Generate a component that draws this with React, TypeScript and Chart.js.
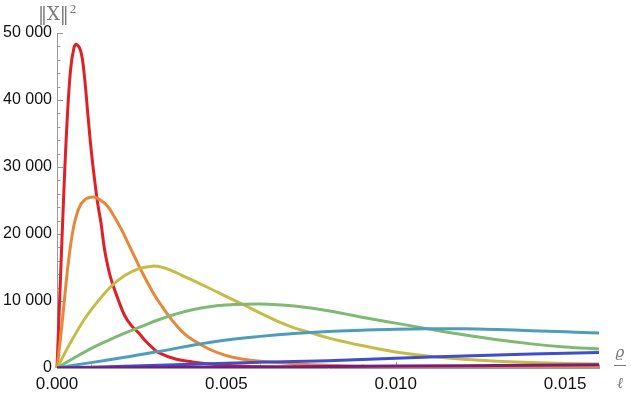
import React, { useEffect, useRef } from "react";
import { Chart, registerables } from "chart.js";

Chart.register(...registerables);

// ---- data ----
const redX = [0, 0.0001, 0.0002, 0.0003, 0.0004, 0.0005, 0.00057, 0.0007, 0.0008, 0.0009, 0.001, 0.0011, 0.0012, 0.0013, 0.0014, 0.0015, 0.0016, 0.0018, 0.002, 0.0022, 0.0024, 0.0026, 0.0028, 0.003, 0.0035, 0.004, 0.0045, 0.005, 0.006, 0.008, 0.01, 0.016];
const redY = [0, 13000, 26000, 37000, 44500, 47800, 48300, 47300, 44000, 38500, 33000, 28500, 24600, 21600, 17800, 15200, 13200, 10300, 7800, 6300, 5300, 4100, 3100, 2300, 1350, 900, 600, 400, 180, 40, 0, 0];

const orangeX = [0, 0.0001, 0.0002, 0.0003, 0.0004, 0.0005, 0.0006, 0.0007, 0.0008, 0.0009, 0.00112, 0.0013, 0.0015, 0.0017, 0.0019, 0.0021, 0.0023, 0.0025, 0.0027, 0.0029, 0.0031, 0.0034, 0.0037, 0.004, 0.0045, 0.005, 0.0055, 0.006, 0.007, 0.008, 0.009, 0.01, 0.012, 0.016];
const orangeY = [0, 4300, 9200, 14200, 18300, 21300, 23200, 24400, 25000, 25350, 25500, 25000, 24100, 22500, 20700, 18600, 16500, 14400, 12500, 10700, 9200, 7100, 5400, 4200, 2800, 1850, 1300, 1000, 650, 400, 250, 150, 50, 0];

const yellowX = [0, 0.0004, 0.0008, 0.0012, 0.0016, 0.002, 0.0024, 0.0028, 0.0031, 0.0034, 0.0037, 0.004, 0.0045, 0.005, 0.0055, 0.006, 0.0065, 0.007, 0.0075, 0.008, 0.0085, 0.009, 0.0095, 0.01, 0.011, 0.012, 0.013, 0.014, 0.015, 0.016];
const yellowY = [0, 3800, 7200, 9900, 12200, 13800, 14800, 15200, 15050, 14500, 13800, 13100, 11900, 10650, 9450, 8200, 7000, 6000, 5250, 4500, 3900, 3350, 2850, 2400, 1750, 1300, 1000, 820, 690, 600];

const greenX = [0, 0.0005, 0.001, 0.0015, 0.002, 0.0025, 0.003, 0.0035, 0.004, 0.0045, 0.005, 0.0055, 0.006, 0.0065, 0.007, 0.0075, 0.008, 0.0085, 0.009, 0.0095, 0.01, 0.011, 0.012, 0.013, 0.014, 0.015, 0.016];
const greenY = [0, 1500, 2900, 4100, 5200, 6200, 7200, 8050, 8700, 9150, 9400, 9530, 9550, 9450, 9250, 8950, 8550, 8080, 7580, 7120, 6700, 5800, 4950, 4200, 3600, 3150, 2850];

const tealX = [0, 0.001, 0.002, 0.003, 0.004, 0.005, 0.006, 0.007, 0.008, 0.009, 0.01, 0.011, 0.012, 0.013, 0.014, 0.015, 0.016];
const tealY = [0, 800, 1600, 2450, 3400, 4180, 4720, 5150, 5450, 5640, 5790, 5860, 5840, 5730, 5570, 5400, 5230];

const blueX = [0, 0.002, 0.004, 0.006, 0.008, 0.01, 0.012, 0.014, 0.016];
const blueY = [0, 250, 550, 850, 1100, 1450, 1800, 2080, 2300];

const purpleX = [0, 0.004, 0.008, 0.012, 0.016];
const purpleY = [0, 100, 220, 350, 480];

const xMajorTicks = [0, 0.005, 0.01, 0.015];
const yMajorTicks = [0, 10000, 20000, 30000, 40000, 50000];
const xMinorTicks = [0.001, 0.002, 0.003, 0.004, 0.006, 0.007, 0.008, 0.009, 0.011, 0.012, 0.013, 0.014, 0.016];
const yMinorTicks = [2000, 4000, 6000, 8000, 12000, 14000, 16000, 18000, 22000, 24000, 26000, 28000, 32000, 34000, 36000, 38000, 42000, 44000, 46000, 48000];

const series = [
  { name: "purple", xs: purpleX, ys: purpleY, color: "#781C81" },
  { name: "blue", xs: blueX, ys: blueY, color: "#3F4ECC" },
  { name: "teal", xs: tealX, ys: tealY, color: "#4F9DBC" },
  { name: "green", xs: greenX, ys: greenY, color: "#7FB972" },
  { name: "yellow", xs: yellowX, ys: yellowY, color: "#C6BC45" },
  { name: "orange", xs: orangeX, ys: orangeY, color: "#E6873A" },
  { name: "red", xs: redX, ys: redY, color: "#DE2127" },
];

const fmtY = (v: number) => (v === 0 ? "0" : String(v).replace(/\B(?=(\d{3})+(?!\d))/g, " "));

const axisColor = "#9a9a9a";

const decorPlugin = {
  id: "decor",
  beforeDatasetsDraw(chart: any) {
    const { ctx, chartArea, scales } = chart;
    const xs = scales.x;
    const ys = scales.y;
    ctx.save();
    ctx.strokeStyle = axisColor;
    ctx.lineWidth = 1;
    ctx.beginPath();
    for (const v of xMajorTicks) {
      const px = Math.round(xs.getPixelForValue(v)) + 0.5;
      ctx.moveTo(px, chartArea.bottom);
      ctx.lineTo(px, chartArea.bottom - 6);
    }
    for (const v of xMinorTicks) {
      const px = Math.round(xs.getPixelForValue(v)) + 0.5;
      ctx.moveTo(px, chartArea.bottom);
      ctx.lineTo(px, chartArea.bottom - 3.5);
    }
    for (const v of yMajorTicks) {
      const py = Math.round(ys.getPixelForValue(v)) + 0.5;
      ctx.moveTo(chartArea.left, py);
      ctx.lineTo(chartArea.left + 6, py);
    }
    for (const v of yMinorTicks) {
      const py = Math.round(ys.getPixelForValue(v)) + 0.5;
      ctx.moveTo(chartArea.left, py);
      ctx.lineTo(chartArea.left + 3.5, py);
    }
    ctx.stroke();
    ctx.restore();
  },
  afterDraw(chart: any) {
    const { ctx, chartArea } = chart;
    ctx.save();
    ctx.fillStyle = "#7a7a7a";
    ctx.textBaseline = "alphabetic";
    ctx.textAlign = "left";
    // y-axis label ‖X‖²
    const lx = chartArea.left - 19;
    ctx.font = '18px "DejaVu Serif", "Liberation Serif", serif';
    const mainText = "\u2016X\u2016";
    ctx.fillText(mainText, lx, chartArea.top - 13);
    const w = ctx.measureText(mainText).width;
    ctx.font = '13px "Liberation Serif", "DejaVu Serif", serif';
    ctx.fillText("2", lx + w + 1, chartArea.top - 20);
    // x-axis label ϱ / ℓ
    const cx = chartArea.right + 21;
    ctx.textAlign = "center";
    ctx.font = 'italic 15px "DejaVu Serif", "Liberation Serif", serif';
    ctx.fillText("\u03F1", cx, chartArea.bottom - 11);
    ctx.fillText("\u2113", cx, chartArea.bottom + 20);
    ctx.strokeStyle = "#7a7a7a";
    ctx.lineWidth = 1;
    ctx.beginPath();
    ctx.moveTo(cx - 6, chartArea.bottom - 2.5);
    ctx.lineTo(cx + 6, chartArea.bottom - 2.5);
    ctx.stroke();
    ctx.restore();
  },
};

export default function App() {
  const ref = useRef<HTMLCanvasElement | null>(null);
  useEffect(() => {
    if (!ref.current) return;
    const chart = new Chart(ref.current, {
      type: "line",
      data: {
        datasets: series.map((s, i) => ({
          label: s.name,
          data: s.xs.map((x, k) => ({ x, y: s.ys[k] })),
          borderColor: s.color,
          backgroundColor: s.color,
          borderWidth: 3,
          pointRadius: 0,
          fill: false,
          tension: 0.4,
          order: i,
          clip: { left: 3, top: 5, right: 0, bottom: 0 } as any,
        })),
      },
      options: {
        animation: false,
        responsive: false,
        maintainAspectRatio: false,
        layout: { padding: { left: 0, top: 33, right: 32, bottom: 0 } },
        plugins: { legend: { display: false }, tooltip: { enabled: false } },
        scales: {
          x: {
            type: "linear",
            min: 0,
            max: 0.016,
            afterBuildTicks: (scale: any) => {
              scale.ticks = xMajorTicks.map((v) => ({ value: v }));
            },
            afterFit: (scale: any) => {
              scale.height = 26;
            },
            grid: { display: false, drawTicks: false },
            border: { display: true, color: axisColor, width: 1 },
            ticks: {
              padding: 6,
              color: "#111",
              font: { family: '"Liberation Sans", Arial, sans-serif', size: 17 },
              maxRotation: 0,
              autoSkip: false,
              callback: (v: any) => Number(v).toFixed(3),
            },
          },
          y: {
            type: "linear",
            min: 0,
            max: 50000,
            afterBuildTicks: (scale: any) => {
              scale.ticks = yMajorTicks.map((v) => ({ value: v }));
            },
            afterFit: (scale: any) => {
              scale.width = 57;
            },
            grid: { display: false, drawTicks: false },
            border: { display: true, color: axisColor, width: 1 },
            ticks: {
              padding: 5,
              color: "#111",
              font: { family: '"Liberation Sans", Arial, sans-serif', size: 16 },
              autoSkip: false,
              callback: (v: any) => fmtY(Number(v)),
            },
          },
        },
      },
      plugins: [decorPlugin],
    });
    return () => chart.destroy();
  }, []);
  return (
    <div style={{ position: "absolute", left: 0, top: 0, width: 631, height: 394, background: "#fff" }}>
      <canvas ref={ref} width={631} height={394} style={{ display: "block" }} />
    </div>
  );
}
